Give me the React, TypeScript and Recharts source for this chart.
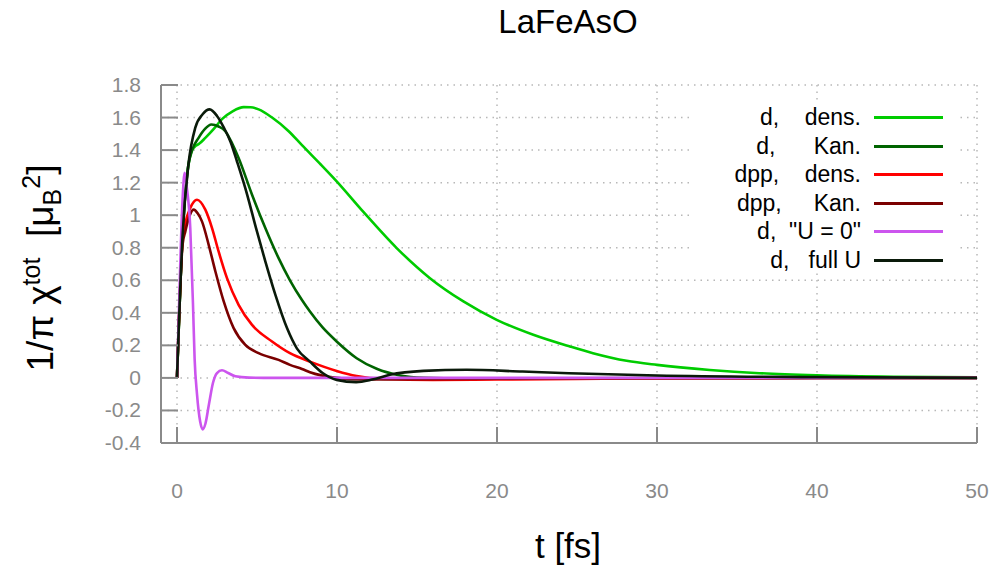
import { LineChart, Line, XAxis, YAxis, CartesianGrid } from "recharts";

// [t (fs), 1/pi chi_tot (muB^2)]
const dDens: [number, number][] = [
  [0, 0], [0.35, 0.88], [0.7, 1.3], [0.9, 1.39], [1.1, 1.42], [1.4, 1.44], [1.77, 1.475],
  [2.3, 1.53], [2.81, 1.59], [3.5, 1.64], [4.17, 1.664], [4.6, 1.663], [5.1, 1.65],
  [5.94, 1.6], [6.98, 1.516], [7.81, 1.43], [9, 1.31], [9.98, 1.208], [11.65, 1.02],
  [13.73, 0.798], [15.81, 0.613], [17.9, 0.47], [19.98, 0.357], [22.27, 0.265],
  [24.56, 0.193], [26, 0.152], [28.1, 0.105], [30, 0.08], [33.3, 0.049], [36.4, 0.029],
  [40, 0.016], [44.8, 0.007], [50, 0.003],
];
const dKan: [number, number][] = [
  [0, 0], [0.35, 0.88], [0.7, 1.3], [0.95, 1.4], [1.35, 1.475], [1.75, 1.53], [2.15, 1.557],
  [2.6, 1.545], [3.02, 1.516], [3.45, 1.44], [3.85, 1.352], [4.69, 1.126], [5.52, 0.921],
  [6.35, 0.736], [7.06, 0.6], [7.8, 0.48], [8.31, 0.408], [9.1, 0.31], [9.98, 0.224],
  [11.23, 0.121], [12.48, 0.056], [13.94, 0.015], [15.4, 0], [18, -0.005], [25, -0.003],
  [35, 0], [50, 0],
];
const dppDens: [number, number][] = [
  [0, 0], [0.35, 0.85], [0.52, 0.95], [0.83, 1.044], [1.25, 1.095], [1.77, 1.034],
  [2.19, 0.921], [2.6, 0.777], [3.125, 0.613], [3.85, 0.449], [4.69, 0.326], [5.94, 0.224],
  [7.06, 0.152], [8.31, 0.1], [9.98, 0.043], [11.23, 0.012], [12.9, -0.006], [16, -0.012],
  [20, -0.01], [25, -0.006], [30, -0.003], [40, -0.001], [50, 0],
];
const dppKan: [number, number][] = [
  [0, 0], [0.35, 0.82], [0.52, 0.9], [0.73, 0.98], [1.04, 1.034], [1.3, 1.01], [1.56, 0.962],
  [1.98, 0.818], [2.4, 0.654], [2.92, 0.47], [3.54, 0.306], [4.27, 0.203], [5.1, 0.152],
  [6.35, 0.111], [7.06, 0.08], [7.81, 0.055], [8.31, 0.035], [9.98, 0], [11.5, -0.01],
  [15, -0.008], [20, -0.005], [30, -0.002], [50, 0],
];
const dU0: [number, number][] = [
  [0, 0], [0.21, 0.72], [0.35, 1.1], [0.48, 1.26], [0.6, 1.18], [0.83, 0.92], [1.0, 0.45],
  [1.1, 0.12], [1.25, -0.1], [1.45, -0.27], [1.6, -0.316], [1.78, -0.28], [2.0, -0.16],
  [2.25, -0.03], [2.5, 0.03], [2.81, 0.047], [3.2, 0.03], [3.65, 0.01], [4.5, 0.002],
  [6, 0], [50, 0],
];
const dFullU: [number, number][] = [
  [0, 0], [0.35, 0.88], [0.7, 1.3], [1.15, 1.54], [1.6, 1.62], [2.04, 1.65], [2.5, 1.61],
  [2.92, 1.54], [3.35, 1.45], [3.75, 1.33], [4.375, 1.13], [4.94, 0.92], [5.52, 0.716],
  [6.15, 0.51], [6.875, 0.306], [7.5, 0.18], [8.31, 0.1], [9.1, 0.03], [9.98, -0.012],
  [11.2, -0.026], [12.2, -0.01], [13.3, 0.019], [15.4, 0.043], [18.1, 0.05], [21.6, 0.039],
  [24.5, 0.029], [30, 0.015], [40, 0.005], [50, 0],
];

const seriesNames = ['d,    dens.', 'd,      Kan.', 'dpp,    dens.', 'dpp,     Kan.', 'd,  "U = 0"', 'd,   full U'];
const seriesColors = ["#00cc00", "#006400", "#ff0000", "#7a0000", "#cc55ee", "#0a1a0a"];
const seriesData = [dDens, dKan, dppDens, dppKan, dU0, dFullU];

const xTicks = [0, 10, 20, 30, 40, 50];
const yTicks = [-0.4, -0.2, 0, 0.2, 0.4, 0.6, 0.8, 1, 1.2, 1.4, 1.6, 1.8];
const yTickLabels = ["-0.4", "-0.2", "0", "0.2", "0.4", "0.6", "0.8", "1", "1.2", "1.4", "1.6", "1.8"];

const FONT = "'Liberation Sans', Arial, sans-serif";
const AXIS_GRAY = "#8a8a8a";

function XTick(props: any) {
  const { x, y, payload } = props;
  return (
    <g>
      <line x1={x} x2={x} y1={y} y2={y - 16} stroke={AXIS_GRAY} strokeWidth={2} />
      <text x={x} y={y + 55} textAnchor="middle" fill={AXIS_GRAY} fontSize={21} fontFamily={FONT}>
        {payload.value}
      </text>
    </g>
  );
}

function YTick(props: any) {
  const { x, y, payload } = props;
  const i = yTicks.indexOf(payload.value);
  return (
    <g>
      <line x1={x} x2={x + 17} y1={y} y2={y} stroke={AXIS_GRAY} strokeWidth={2} />
      <text x={x - 20} y={y + 7} textAnchor="end" fill={AXIS_GRAY} fontSize={21} fontFamily={FONT}>
        {i >= 0 ? yTickLabels[i] : payload.value}
      </text>
    </g>
  );
}

export default function App() {
  return (
    <div style={{ position: "absolute", left: 0, top: 0, width: 993, height: 574, background: "#fff", fontFamily: FONT }}>
      <LineChart width={993} height={574} margin={{ top: 85, right: 16, bottom: 0, left: 0 }}>
        <CartesianGrid stroke="#b8b8b8" strokeDasharray="1.5 5" strokeWidth={1.5} />
        <XAxis
          type="number"
          dataKey="0"
          domain={[-1, 50]}
          ticks={xTicks}
          allowDataOverflow
          height={131}
          tickLine={false}
          tickSize={0}
          tickMargin={0}
          axisLine={{ stroke: AXIS_GRAY, strokeWidth: 2 }}
          tick={XTick}
        />
        <YAxis
          type="number"
          domain={[-0.4, 1.8]}
          ticks={yTicks}
          allowDataOverflow
          width={161}
          tickLine={false}
          tickSize={0}
          tickMargin={0}
          axisLine={{ stroke: AXIS_GRAY, strokeWidth: 2 }}
          tick={YTick}
        />
        {seriesData.map((d, i) => (
          <Line
            key={seriesNames[i]}
            data={d}
            dataKey="1"
            type="monotone"
            stroke={seriesColors[i]}
            strokeWidth={2.6}
            dot={false}
            isAnimationActive={false}
          />
        ))}
      </LineChart>

      <div style={{ position: "absolute", left: 0, width: 993, top: 3, paddingLeft: 143, boxSizing: "border-box", textAlign: "center", fontSize: 33 }}>
        LaFeAsO
      </div>

      <div style={{ position: "absolute", left: 0, width: 993, top: 526, paddingLeft: 143, boxSizing: "border-box", textAlign: "center", fontSize: 35 }}>
        t [fs]
      </div>

      <div
        style={{
          position: "absolute",
          left: 42,
          top: 268,
          transform: "translate(-50%, -50%) rotate(-90deg)",
          whiteSpace: "pre",
          fontSize: 37,
          lineHeight: 1,
        }}
      >
        1/π χ<sup style={{ fontSize: 25 }}>tot</sup>{"  "}[μ<sub style={{ fontSize: 25 }}>B</sub><sup style={{ fontSize: 25 }}>2</sup>]
      </div>

      <div
        style={{
          position: "absolute",
          left: 690,
          top: 101,
          width: 266,
          height: 172,
          background: "#fff",
        }}
      >
        {seriesNames.map((name, i) => (
          <div key={name} style={{ position: "absolute", left: 0, top: 2 + i * 28.5, height: 28, width: 266 }}>
            <span
              style={{
                position: "absolute",
                right: 95,
                top: 0,
                whiteSpace: "pre",
                fontSize: 23,
                lineHeight: "28px",
                color: "#000",
              }}
            >
              {name}
            </span>
            <div style={{ position: "absolute", left: 184, top: 13, width: 69, height: 3, background: seriesColors[i] }} />
          </div>
        ))}
      </div>
    </div>
  );
}
